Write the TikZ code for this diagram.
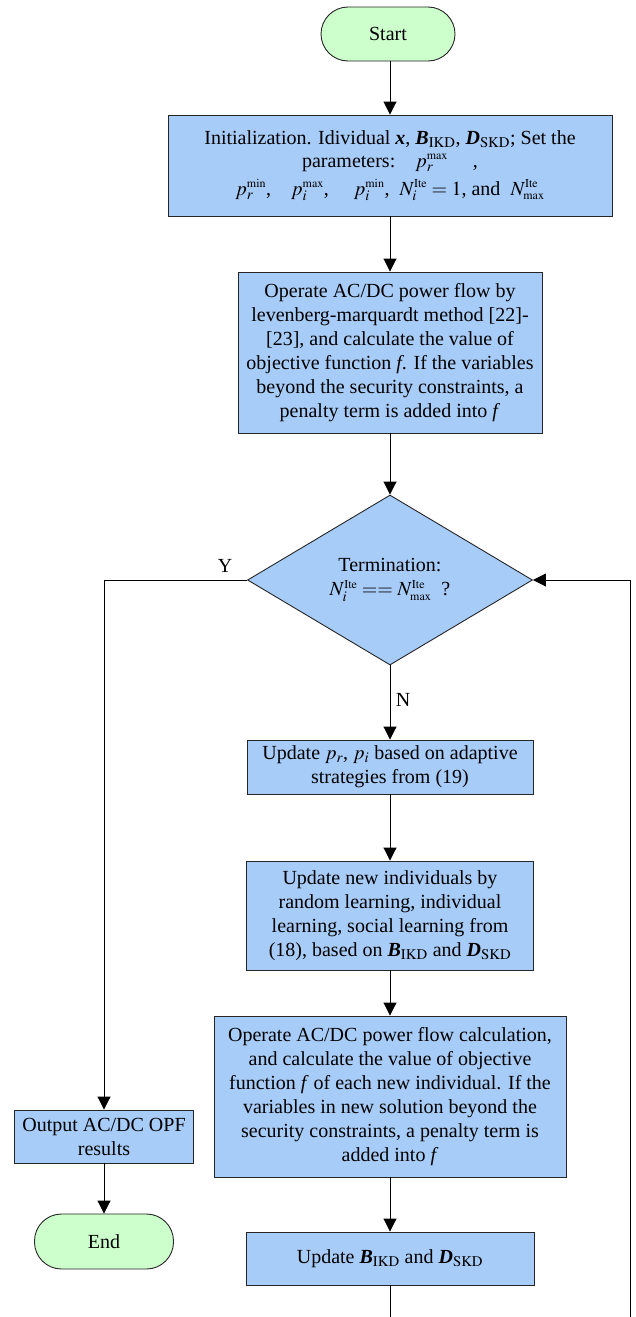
\documentclass[tikz,border=0pt]{standalone}
\usepackage{mathptmx}
\usepackage{fontspec}
\setmainfont{Liberation Serif}
\usetikzlibrary{arrows.meta,shapes.geometric}
\definecolor{boxblue}{RGB}{168,204,248}
\definecolor{termgreen}{RGB}{204,255,204}
\newcommand{\BIKD}{\textbf{\textit{B}}$_{\mathrm{IKD}}$}
\newcommand{\DSKD}{\textbf{\textit{D}}$_{\mathrm{SKD}}$}
\newcommand{\smsup}[1]{{\scriptscriptstyle\mathrm{#1}}}
\begin{document}
\begin{tikzpicture}[x=1pt,y=-1pt,
  every node/.style={font=\fontsize{20}{24}\selectfont},
  box/.style={draw=black!85, fill=boxblue, line width=0.9pt, align=center, inner sep=0pt},
  term/.style={box, fill=termgreen, rounded corners=27pt},
  arr/.style={-{Triangle[width=13pt,length=13pt]}, line width=0.9pt},
  lbl/.style={inner sep=0pt}]
\useasboundingbox (0,0) rectangle (635,1317);
\clip (0,0) rectangle (635,1317);

\node[term, minimum width=134pt, minimum height=54pt] (start) at (388,34) {Start};
\node[box, minimum width=444pt, minimum height=101pt] (init) at (390,165.5)
  {Initialization. Idividual \textbf{\textit{x}}, \BIKD, \DSKD; Set the\\[-1pt]
   parameters:\quad $p_r^{\smsup{max}}$\quad\ ,\\[4pt]
   $p_r^{\smsup{min}}$,\quad $p_i^{\smsup{max}}$,\quad\ $p_i^{\smsup{min}}$,\ \ $N_i^{\smsup{Ite}}=1$, and\ \ $N_{\smsup{max}}^{\smsup{Ite}}$};
\node[box, minimum width=304pt, minimum height=161pt] (op1) at (390,352.5)
  {Operate AC/DC power flow by\\levenberg-marquardt method [22]-\\{}[23], and calculate the value of\\objective function \textit{f}. If the variables\\beyond the security constraints, a\\penalty term is added into \textit{f}};
\node[box, shape=diamond, minimum width=285pt, minimum height=170pt] (dec) at (390,580)
  {Termination:\\ $N_i^{\smsup{Ite}} == N_{\smsup{max}}^{\smsup{Ite}}$\ \ ?};
\node[box, minimum width=286pt, minimum height=54pt] (up) at (390,767)
  {Update $p_r$, $p_i$ based on adaptive\\strategies from (19)};
\node[box, minimum width=287pt, minimum height=109pt] (un) at (390,915.5)
  {Update new individuals by\\random learning, individual\\learning, social learning from\\(18), based on \BIKD{} and \DSKD};
\node[box, minimum width=352pt, minimum height=161pt] (op2) at (390,1096.5)
  {Operate AC/DC power flow calculation,\\and calculate the value of objective\\function \textit{f} of each new individual. If the\\variables in new solution beyond the\\security constraints, a penalty term is\\added into \textit{f}};
\node[box, minimum width=288pt, minimum height=53pt] (ub) at (390,1258.5)
  {Update \BIKD{} and \DSKD};
\node[box, minimum width=179pt, minimum height=53pt] (out) at (104,1136.5)
  {Output AC/DC OPF\\results};
\node[term, minimum width=139pt, minimum height=55pt] (end) at (104,1241.5) {End};

\node[lbl] (ylab) at (225,566) {Y};
\node[lbl] (nlab) at (403,700) {N};
\coordinate (loopc) at (630,1330);

\draw[arr] (init.north |- start.south) -- (init.north);
\draw[arr] (init.south) -- (op1.north);
\draw[arr] (op1.south) -- (dec.north);
\draw[arr] (dec.west) -| (out.north);
\draw[arr] (dec.south) -- (up.north);
\draw[arr] (up.south) -- (un.north);
\draw[arr] (un.south) -- (op2.north);
\draw[arr] (op2.south) -- (ub.north);
\draw[arr] (out.south) -- (end.north);
\draw[arr] (ub.south) |- (loopc) |- (dec.east);
\end{tikzpicture}
\end{document}
